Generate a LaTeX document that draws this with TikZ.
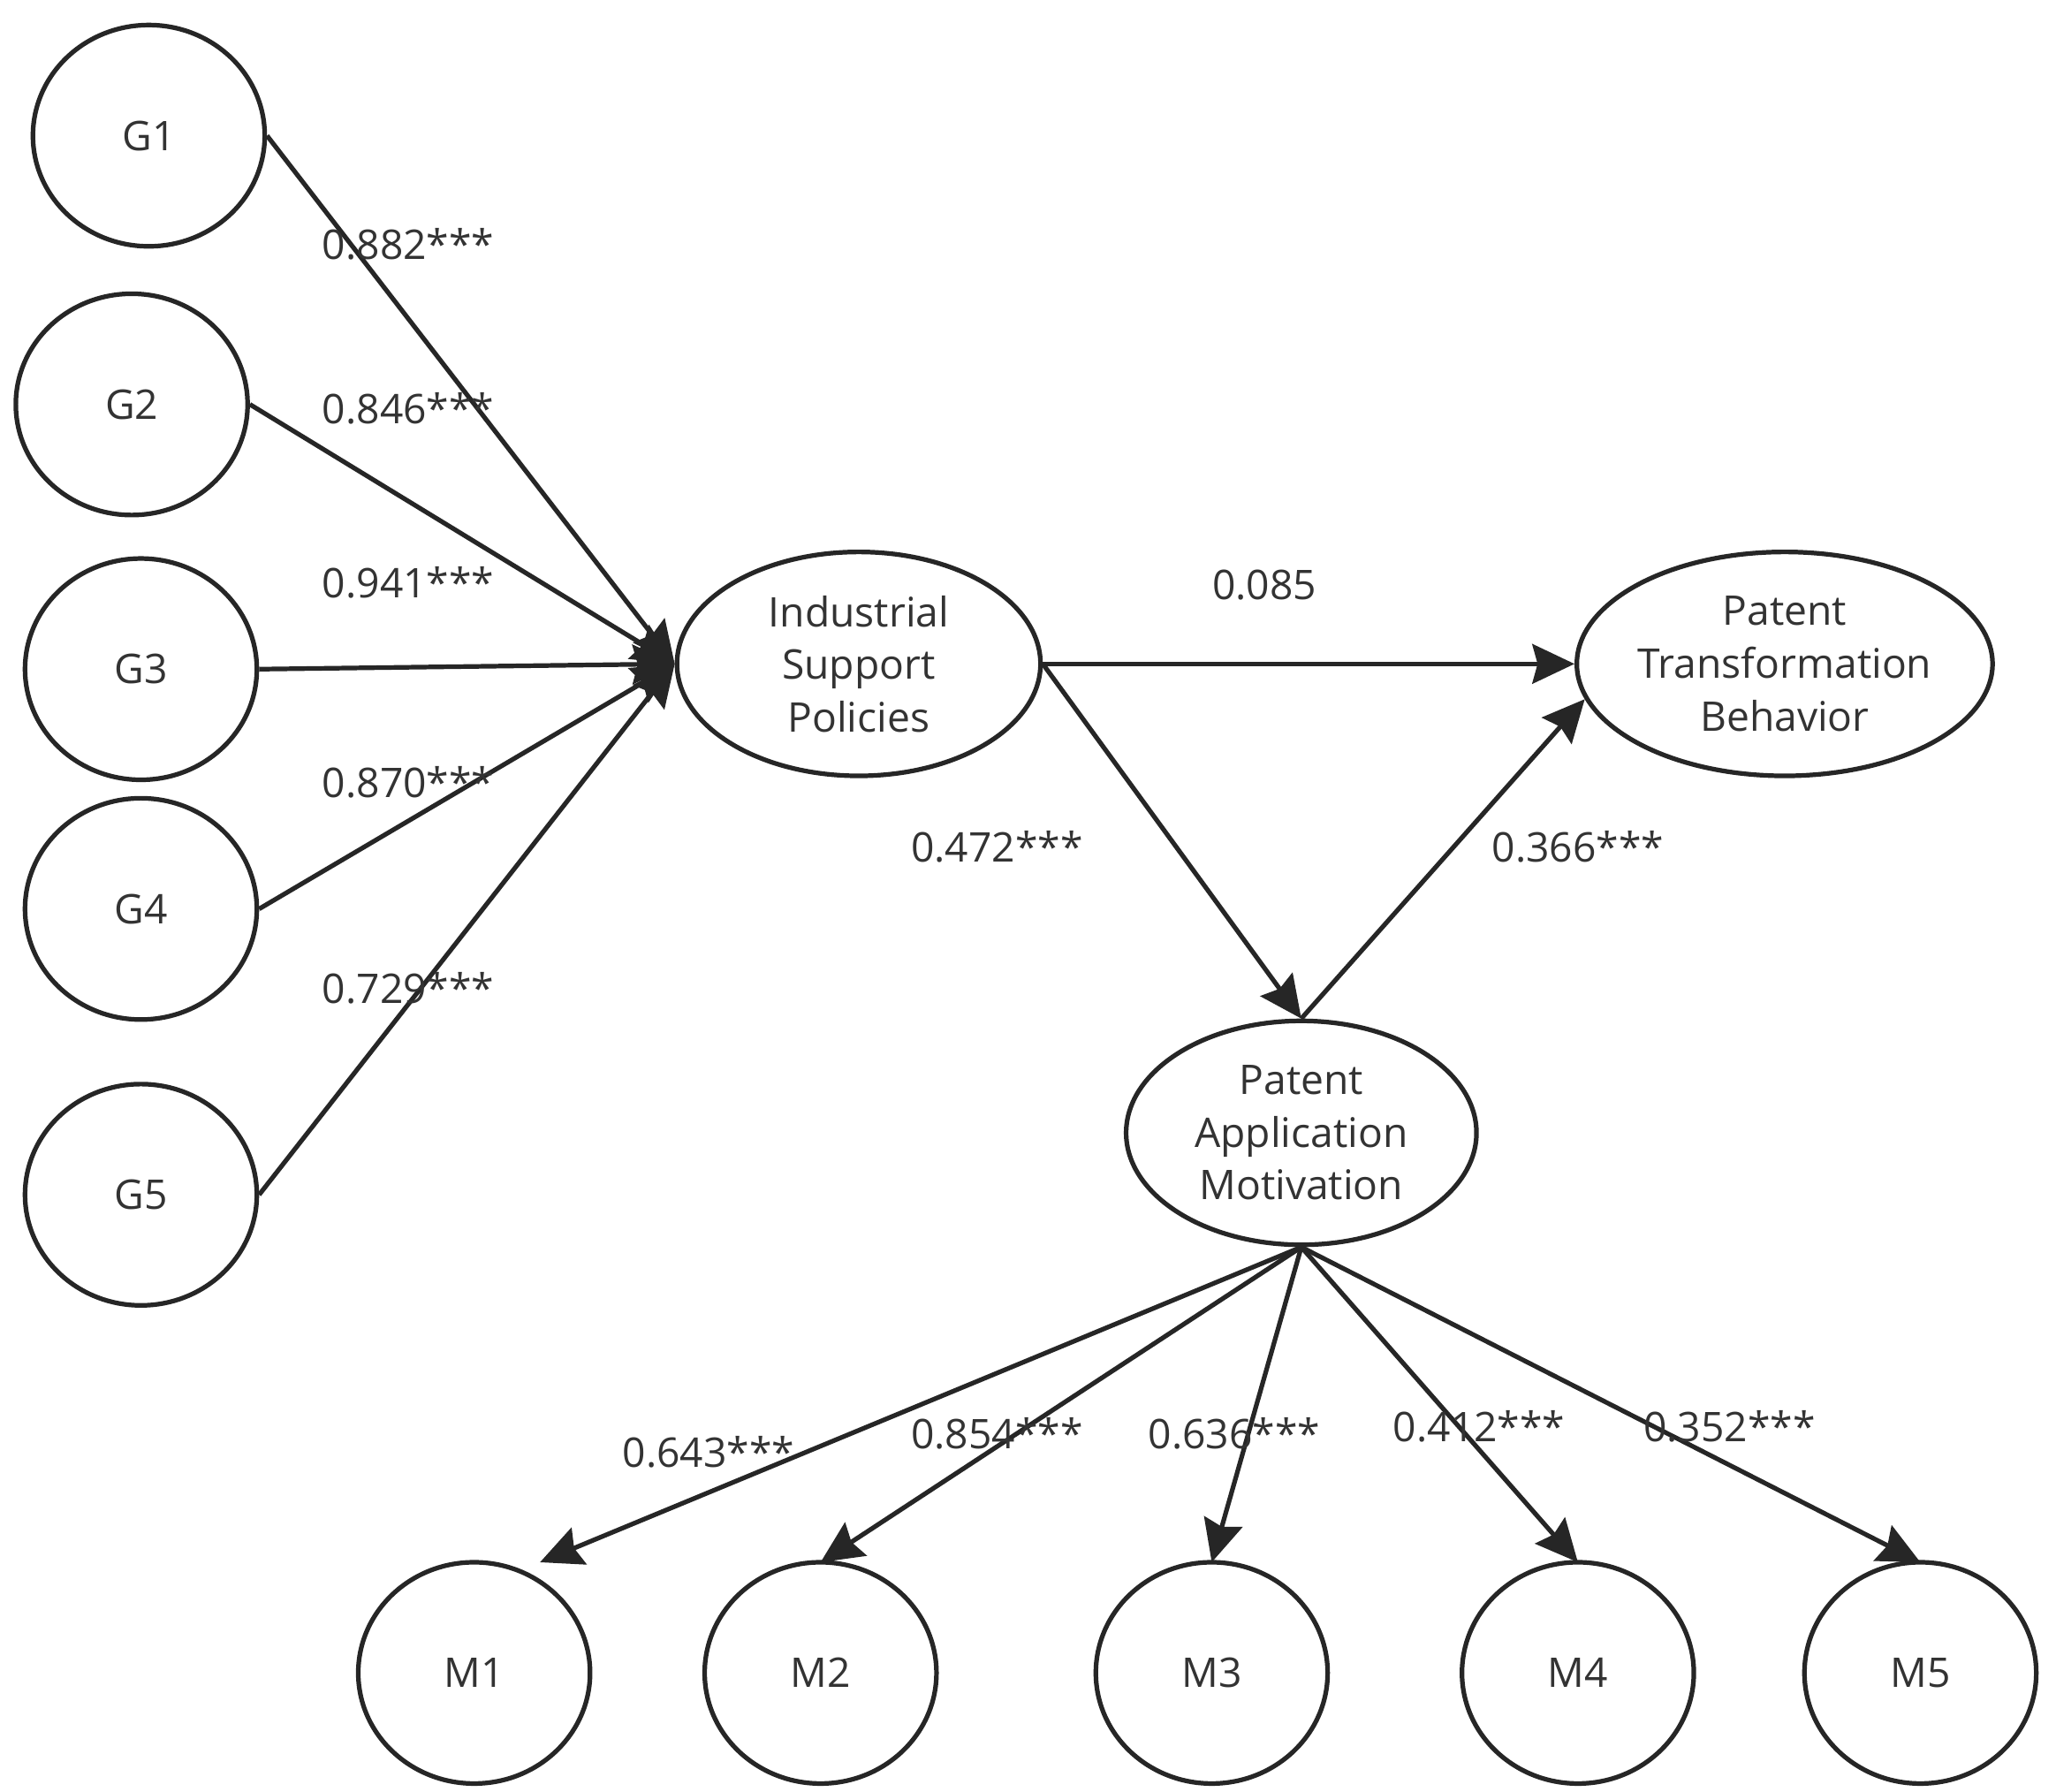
\documentclass[tikz,border=0pt]{standalone}
\usepackage{fontspec}
\setmainfont{Open Sans}
\usetikzlibrary{arrows.meta,shapes.geometric}
\begin{document}
\begin{tikzpicture}[x=1pt,y=-1pt,
  ob/.style={draw=black!85,line width=3.5pt,ellipse,minimum width=176pt,minimum height=168pt,inner sep=0pt,font=\fontsize{31}{37}\selectfont,text=black!80},
  lv/.style={draw=black!85,line width=3.5pt,ellipse,inner sep=0pt,font=\fontsize{31}{40}\selectfont,text=black!80,align=center},
  ar/.style={draw=black!85,line width=3.5pt,-{Stealth[length=32pt,width=30pt,inset=4pt]}},
  lb/.style={font=\fontsize{31}{37}\selectfont,text=black!80}]
\useasboundingbox (0,0) rectangle (1561,1360);
\node[ob] (g1) at (113,103) {G1};
\node[ob] (g2) at (100,307) {G2};
\node[ob] (g3) at (107,508) {G3};
\node[ob] (g4) at (107,690) {G4};
\node[ob] (g5) at (107,907) {G5};
\node[lv,minimum width=276pt,minimum height=170pt] (isp) at (652,504) {Industrial\\Support\\Policies};
\node[lv,minimum width=290pt,minimum height=170pt] (ptb) at (1355,504) {Patent\\Transformation\\Behavior};
\node[lv,minimum width=266pt,minimum height=170pt] (pam) at (988,860) {Patent\\Application\\Motivation};
\foreach \n/\x in {m1/360,m2/623,m3/920,m4/1198,m5/1458}
  \node[ob] (\n) at (\x,1270) {\MakeUppercase{\n}};
\foreach \g in {g1,g2,g3,g4,g5} \draw[ar] (\g.east) -- (isp.west);
\draw[ar] (isp.east) -- (ptb.west);
\draw[ar] (isp.east) -- (pam.north);
\draw[ar] (pam.north) -- (ptb.190);
\foreach \n/\x in {m1/410,m2/623,m3/920,m4/1198,m5/1458}
  \draw[ar] (pam.south) -- (\x,1186);
\node[lb] at (310,185) {0.882***};
\node[lb] at (310,310) {0.846***};
\node[lb] at (310,442) {0.941***};
\node[lb] at (310,594) {0.870***};
\node[lb] at (310,750) {0.729***};
\node[lb] at (960,444) {0.085};
\node[lb] at (757,643) {0.472***};
\node[lb] at (1198,643) {0.366***};
\node[lb] at (538,1102) {0.643***};
\node[lb] at (757,1088) {0.854***};
\node[lb] at (937,1088) {0.636***};
\node[lb] at (1123,1083) {0.412***};
\node[lb] at (1313,1083) {0.352***};
\end{tikzpicture}
\end{document}
